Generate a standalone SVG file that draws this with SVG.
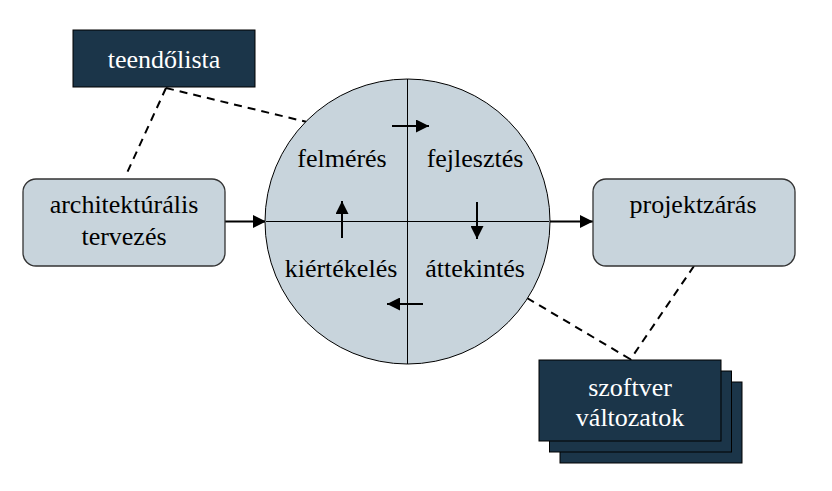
<svg xmlns="http://www.w3.org/2000/svg" width="832" height="491" viewBox="0 0 832 491">
<defs>
<marker id="ah" viewBox="0 0 10 10" refX="10" refY="5" markerWidth="6.5" markerHeight="6.5" markerUnits="strokeWidth" orient="auto">
<path d="M0,0 L10,5 L0,10 z" fill="#000"/>
</marker>
</defs>
<g id="connectors" stroke="#000" stroke-width="2" fill="none">
<g stroke-dasharray="8,6">
<line x1="166" y1="88" x2="307" y2="122"/>
<line x1="166" y1="88" x2="126" y2="175"/>
<line x1="694" y1="266" x2="630" y2="360"/>
<line x1="527" y1="298" x2="630" y2="359"/>
</g>
<line marker-end="url(#ah)" x1="225" y1="221.5" x2="266" y2="221.5"/>
<line marker-end="url(#ah)" x1="549" y1="221.5" x2="593" y2="221.5"/>
</g>
<g id="ciklus">
<circle cx="407.5" cy="221.5" r="142.5" fill="#c8d4dc" stroke="#000" stroke-width="1"/>
<line x1="266" y1="221.5" x2="549" y2="221.5" stroke="#000" stroke-width="1"/>
<line x1="407.5" y1="79" x2="407.5" y2="364" stroke="#000" stroke-width="1"/>
<g stroke="#000" stroke-width="2" marker-end="url(#ah)">
<line x1="392" y1="126" x2="429" y2="126"/>
<line x1="477" y1="202" x2="477" y2="239"/>
<line x1="423" y1="304" x2="387" y2="304"/>
<line x1="342" y1="238" x2="342" y2="201"/>
</g>
<g font-family="Liberation Serif, Times New Roman, serif" font-size="26" text-anchor="middle" fill="#000">
<text x="342" y="167">felmérés</text>
<text x="475" y="167">fejlesztés</text>
<text x="341" y="277">kiértékelés</text>
<text x="475" y="277">áttekintés</text>
</g>
</g>
<g id="teendolista">
<rect x="73" y="30" width="182" height="57" fill="#1b3549" stroke="#000" stroke-width="1"/>
<text font-family="Liberation Serif, Times New Roman, serif" font-size="26" text-anchor="middle" fill="#fff" x="164" y="68">teendőlista</text>
</g>
<g id="architekturalis">
<rect x="23" y="179" width="202" height="87" rx="13" fill="#c8d4dc" stroke="#333" stroke-width="1.3"/>
<g font-family="Liberation Serif, Times New Roman, serif" font-size="26" text-anchor="middle" fill="#000">
<text x="124" y="213">architektúrális</text>
<text x="124" y="245">tervezés</text>
</g>
</g>
<g id="projektzaras">
<rect x="593" y="179" width="202" height="87" rx="13" fill="#c8d4dc" stroke="#333" stroke-width="1.3"/>
<text font-family="Liberation Serif, Times New Roman, serif" font-size="26" text-anchor="middle" fill="#000" x="693" y="213">projektzárás</text>
</g>
<g id="szoftver">
<g fill="#1b3549" stroke="#000" stroke-width="1">
<rect x="560" y="382" width="182" height="81"/>
<rect x="549.5" y="371" width="182" height="81"/>
<rect x="539" y="360" width="182" height="81"/>
</g>
<g font-family="Liberation Serif, Times New Roman, serif" font-size="26" text-anchor="middle" fill="#fff">
<text x="630" y="396">szoftver</text>
<text x="630" y="426">változatok</text>
</g>
</g>
</svg>
